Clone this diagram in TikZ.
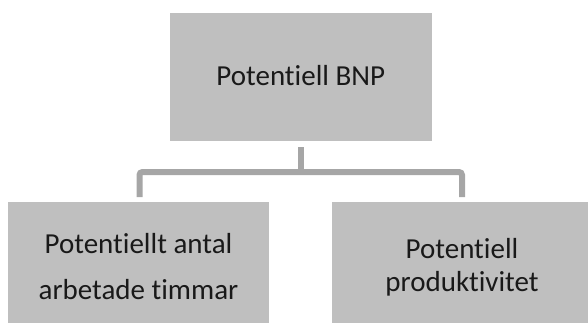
\documentclass[tikz,border=0pt]{standalone}
\usepackage{fontspec}
\setmainfont{Carlito}[Ligatures={NoCommon,NoContextual}]
\usetikzlibrary{calc}
\definecolor{boxfill}{HTML}{BFBFBF}
\definecolor{linegray}{HTML}{A6A6A6}
\tikzset{
  box/.style={fill=boxfill, draw=none, inner sep=0pt, outer sep=0pt},
  lbl/.style={font=\fontsize{29}{34}\selectfont, inner sep=0pt, anchor=base, text=black!90},
  conn/.style={draw=linegray, line width=6pt, rounded corners=3pt}
}
\begin{document}
\begin{tikzpicture}[x=1pt,y=1pt]
\useasboundingbox (0,0) rectangle (588,322);
\clip (0,0) rectangle (588,322);
\node[box, minimum width=261.7pt, minimum height=128pt, anchor=south west] (top) at (170,181.3) {};
\node[box, minimum width=261pt, minimum height=130pt, anchor=north west] (left) at (8,120.3) {};
\node[box, minimum width=260pt, minimum height=130pt, anchor=north west] (right) at (332,120.3) {};
\node[lbl] (ttop) at (300.8,237) {Potentiell BNP};
\node[lbl] (tleft1) at (138.5,69) {Potentiellt antal};
\node[lbl] (tleft2) at (138.5,23) {arbetade timmar};
\node[lbl] (tright1) at (462,63.7) {Potentiell};
\node[lbl] (tright2) at (462,31) {produktivitet};
\coordinate (hub) at ($(top.south)+(0,-31.3)$);
\draw[conn] ([yshift=-6.3pt]top.south) -- (hub);
\draw[conn] ([xshift=1pt,yshift=4.7pt]left.north) |- (hub) -| ([yshift=4.7pt]right.north);
\end{tikzpicture}
\end{document}
